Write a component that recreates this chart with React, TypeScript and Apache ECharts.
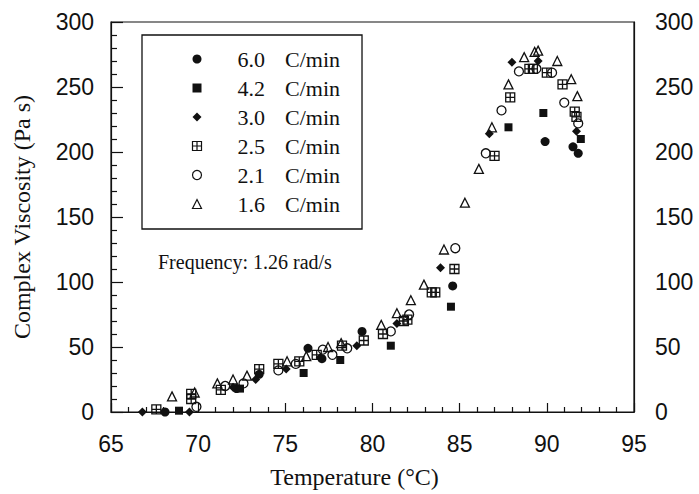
import React, { useEffect, useRef } from "react";
import * as echarts from "echarts";

// ---- data ----
const seriesNames = ["6.0 C/min", "4.2 C/min", "3.0 C/min", "2.5 C/min", "2.1 C/min", "1.6 C/min"];

const r60T = [68.1, 72.2, 73.5, 76.3, 77.1, 79.4, 84.6, 89.9, 91.5, 91.8];
const r60V = [0, 18, 29, 49, 41, 62, 97, 208, 204, 199];

const r42T = [68.9, 72.4, 76.05, 78.15, 81.05, 84.5, 87.8, 89.8, 91.95];
const r42V = [1, 18, 30, 40, 51, 81, 219, 230, 210];

const r30T = [66.8, 69.5, 72.0, 73.3, 75.05, 77.0, 79.1, 81.4, 83.9, 86.7, 88.0, 89.5, 91.7];
const r30V = [0, 0, 19, 25, 33, 42, 51, 68, 111, 214, 269, 270, 216];

const r25T = [67.6, 69.6, 69.6, 71.3, 73.5, 74.6, 75.8, 76.8, 78.25, 79.5, 80.6, 81.8, 82.0, 83.4, 83.6, 84.7, 87.0, 87.9, 89.0, 89.2, 90.0, 90.9, 91.6, 91.7];
const r25V = [2, 10, 14, 17, 33, 37, 39, 44, 51, 55, 60, 70, 71, 92, 92, 110, 197, 242, 264, 264, 261, 252, 231, 227];

const r21T = [69.9, 71.55, 72.6, 74.6, 75.6, 77.15, 77.7, 78.55, 81.05, 82.1, 84.75, 86.5, 87.4, 88.4, 89.4, 90.3, 91.0, 91.8];
const r21V = [4, 20, 22, 32, 37, 48, 44, 49, 62, 75, 126, 199, 232, 262, 264, 261, 238, 222];

const r16T = [68.5, 69.8, 71.1, 72.0, 72.8, 75.1, 76.2, 77.45, 78.2, 80.5, 81.4, 82.2, 82.95, 84.1, 85.3, 86.1, 86.85, 87.8, 88.7, 89.3, 89.5, 90.6, 91.4, 91.75];
const r16V = [12, 15, 22, 25, 28, 39, 43, 50, 53, 67, 76, 86, 98, 125, 161, 187, 219, 252, 273, 277, 278, 270, 256, 243];

const xTicks = [65, 95, 5];
const yTicks = [0, 300, 50];

const INK = "#111";
const BOXSYM = "path://M0,0H10V10H0ZM5,0V10M0,5H10";

const styles = [
  { symbol: "circle", size: 9, fill: INK },
  { symbol: "rect", size: 8, fill: INK },
  { symbol: "diamond", size: 9, fill: INK },
  { symbol: BOXSYM, size: 9, fill: "none" },
  { symbol: "circle", size: 9, fill: "none" },
  { symbol: "triangle", size: 9, fill: "none" },
];

const dataSets = [
  [r60T, r60V],
  [r42T, r42V],
  [r30T, r30V],
  [r25T, r25V],
  [r21T, r21V],
  [r16T, r16V],
];

export default function App() {
  const ref = useRef<HTMLDivElement>(null);
  useEffect(() => {
    if (!ref.current) return;
    const chart = echarts.init(ref.current, null, { renderer: "svg" });
    const serif = "'Liberation Serif', 'Times New Roman', serif";
    const sans = "'Liberation Sans', Arial, sans-serif";

    const series = seriesNames.map((name, i) => {
      const st = styles[i];
      const [T, V] = dataSets[i];
      return {
        name,
        type: "scatter",
        xAxisIndex: 0,
        yAxisIndex: 0,
        symbol: st.symbol,
        symbolSize: st.size,
        itemStyle: {
          color: st.fill,
          borderColor: INK,
          borderWidth: st.fill === "none" ? 1.3 : 0,
          opacity: 1,
        },
        emphasis: { disabled: true },
        data: T.map((t, k) => [t, V[k]]),
      };
    });

    chart.setOption({
      animation: false,
      backgroundColor: "#fff",
      grid: {
        left: 111,
        right: 65,
        top: 22,
        bottom: 81,
        show: true,
        borderColor: INK,
        borderWidth: 1.2,
        backgroundColor: "transparent",
      },
      legend: {
        orient: "vertical",
        left: 142,
        top: 35,
        padding: [13, 22, 14, 48],
        itemWidth: 9,
        itemHeight: 9,
        itemGap: 7,
        borderColor: INK,
        borderWidth: 1.3,
        backgroundColor: "#fff",
        selectedMode: false,
        data: seriesNames.map((name, i) => ({
          name,
          icon: styles[i].symbol,
          itemStyle: {
            color: styles[i].fill,
            borderColor: INK,
            borderWidth: styles[i].fill === "none" ? 1.2 : 0,
          },
        })),
        formatter: (name: string) => {
          const [num, unit] = name.split(" ");
          return `{a|${num}}{b|${unit}}`;
        },
        textStyle: {
          color: INK,
          fontFamily: serif,
          fontSize: 22,
          lineHeight: 22,
          rich: {
            a: { fontFamily: serif, fontSize: 22, color: INK, padding: [0, 0, 0, 31] },
            b: { fontFamily: serif, fontSize: 22, color: INK, padding: [0, 0, 0, 20] },
          },
        },
      },
      xAxis: [
        {
          type: "value",
          min: xTicks[0],
          max: xTicks[1],
          interval: xTicks[2],
          name: "Temperature (°C)",
          nameLocation: "middle",
          nameGap: 53,
          nameTextStyle: {
            fontFamily: serif,
            fontSize: 24,
            color: INK,
            padding: [0, 36, 0, 0],
          },
          axisLine: { show: true, lineStyle: { color: INK, width: 1.2 } },
          axisTick: { show: true, inside: true, length: 9, lineStyle: { color: INK, width: 1.2 } },
          minorTick: { show: true, splitNumber: 5, length: 5, lineStyle: { color: INK, width: 1.2 } },
          axisLabel: { color: INK, fontFamily: sans, fontSize: 23, margin: 20 },
          splitLine: { show: false },
          minorSplitLine: { show: false },
        },
      ],
      yAxis: [
        {
          type: "value",
          min: yTicks[0],
          max: yTicks[1],
          interval: yTicks[2],
          name: "Complex Viscosity (Pa s)",
          nameLocation: "middle",
          nameGap: 77,
          nameTextStyle: { fontFamily: serif, fontSize: 24, color: INK },
          axisLine: { show: true, lineStyle: { color: INK, width: 1.2 } },
          axisTick: { show: true, inside: true, length: 12, lineStyle: { color: INK, width: 1.2 } },
          minorTick: { show: true, splitNumber: 5, length: 6, lineStyle: { color: INK, width: 1.2 } },
          axisLabel: { color: INK, fontFamily: sans, fontSize: 23, margin: 17 },
          splitLine: { show: false },
          minorSplitLine: { show: false },
        },
        {
          type: "value",
          position: "right",
          min: yTicks[0],
          max: yTicks[1],
          interval: yTicks[2],
          axisLine: { show: true, lineStyle: { color: INK, width: 1.2 } },
          axisTick: { show: false },
          axisLabel: { color: INK, fontFamily: sans, fontSize: 23, margin: 21 },
          splitLine: { show: false },
        },
      ],
      graphic: [
        {
          type: "text",
          left: 158,
          top: 252,
          style: {
            text: "Frequency: 1.26 rad/s",
            fontFamily: serif,
            fontSize: 20,
            fill: INK,
          },
        },
      ],
      series,
    });
    return () => chart.dispose();
  }, []);
  return (
    <div
      ref={ref}
      style={{ position: "fixed", left: 0, top: 0, width: 699, height: 494, background: "#fff" }}
    />
  );
}
